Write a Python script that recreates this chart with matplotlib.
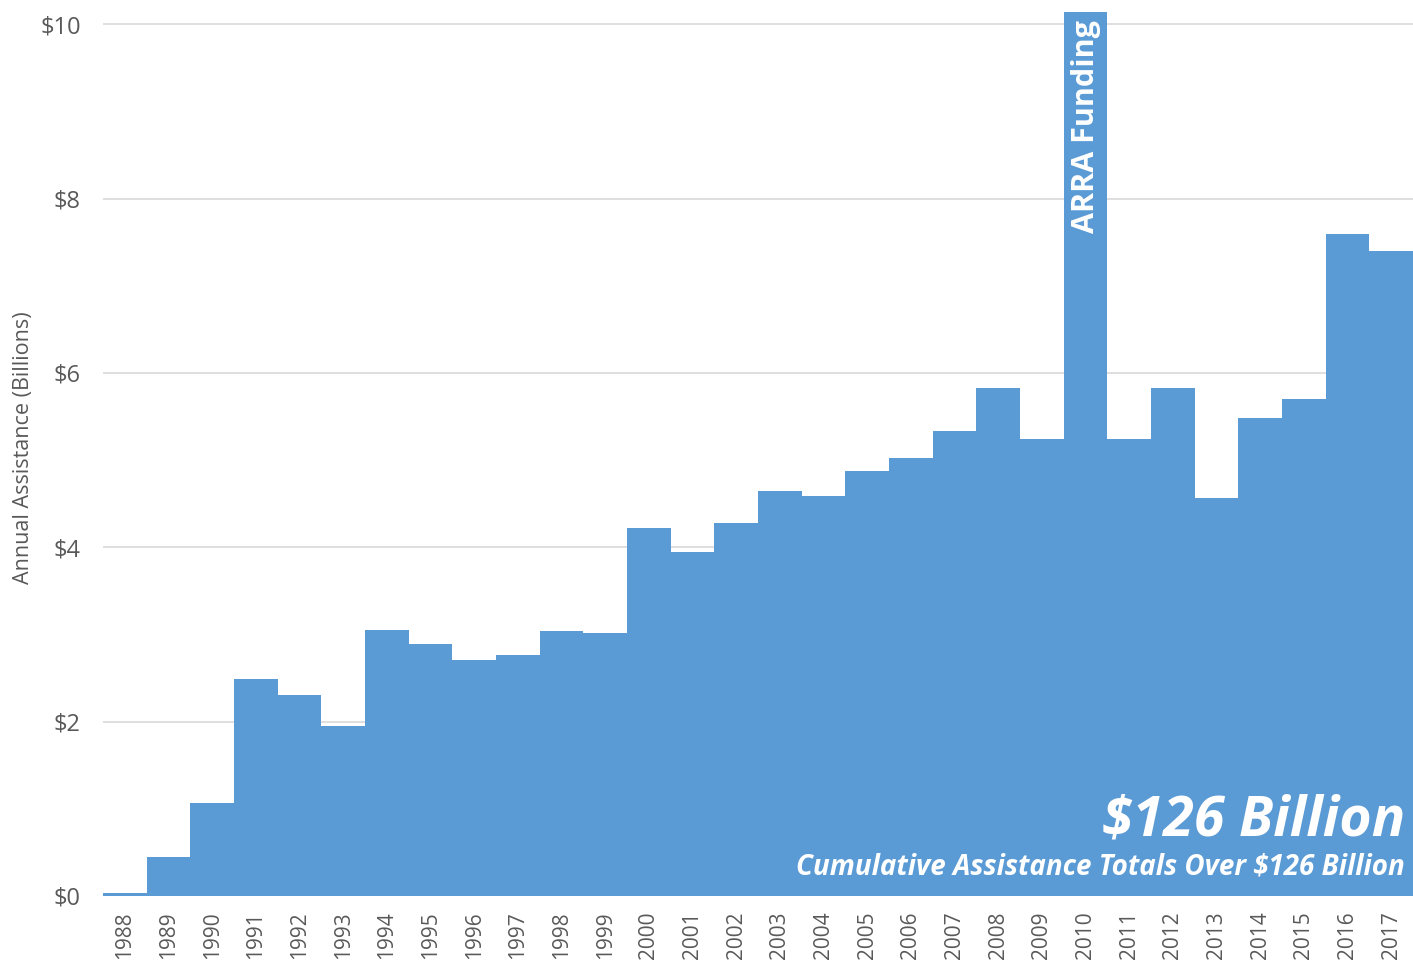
import matplotlib
matplotlib.use("Agg")
import matplotlib.pyplot as plt

years = [str(y) for y in range(1988, 2018)]
values = [0.03, 0.45, 1.07, 2.49, 2.31, 1.95, 3.05, 2.89, 2.71, 2.76,
          3.04, 3.02, 4.22, 3.94, 4.28, 4.64, 4.59, 4.87, 5.02, 5.33,
          5.83, 5.24, 10.14, 5.24, 5.83, 4.56, 5.48, 5.70, 7.59, 7.40]
yticks = [0, 2, 4, 6, 8, 10]
ytick_labels = ["$0", "$2", "$4", "$6", "$8", "$10"]

BAR = "#5B9BD5"
GRAY = "#595959"
FONT = "Open Sans"

fig = plt.figure(figsize=(14.13, 9.66), dpi=100)
ax = fig.add_axes([0.0729, 0.0725, 0.9271, 0.9151])

x = list(range(len(years)))
ax.bar(x, values, width=1.0, color=BAR, edgecolor="none", zorder=2)
ax.set_xlim(-0.5, len(years) - 0.5)
ax.set_ylim(0, 10.14)
ax.set_yticks(yticks)
ax.set_yticklabels(ytick_labels, fontsize=17, color=GRAY, family=FONT)
ax.set_xticks(x)
ax.set_xticklabels(years, rotation=90, fontsize=15, color=GRAY, family=FONT)
ax.tick_params(axis="both", length=0)
ax.tick_params(axis="y", pad=16)
ax.tick_params(axis="x", pad=11)
ax.grid(axis="y", color="#D9D9D9", linewidth=1.2, zorder=0)
ax.set_axisbelow(True)
for s in ax.spines.values():
    s.set_visible(False)

ax.set_ylabel("Annual Assistance (Billions)", fontsize=15.5, color=GRAY,
              family=FONT)
ax.yaxis.set_label_coords(-0.053, 0.507)

idx2010 = years.index("2010")
ax.text(idx2010, 10.05, "ARRA Funding", rotation=90, ha="center", va="top",
        color="white", fontsize=22, fontweight="bold", family=FONT, zorder=3)

ax.text(0.994, 0.068, "$126 Billion", transform=ax.transAxes, ha="right",
        va="baseline", color="white", fontsize=40, fontweight="bold",
        style="italic", family=FONT, zorder=3)
ax.text(0.994, 0.024, "Cumulative Assistance Totals Over $126 Billion",
        transform=ax.transAxes, ha="right", va="baseline", color="white",
        fontsize=20, fontweight="bold", style="italic", family=FONT, zorder=3)

fig.savefig("out.png", dpi=100)
